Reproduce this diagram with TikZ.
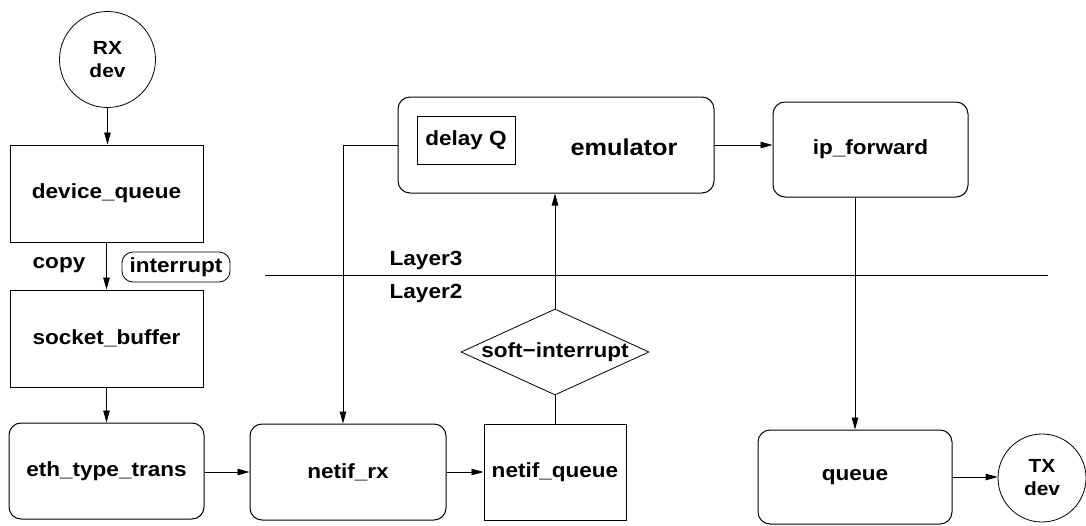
\documentclass[tikz,border=0pt]{standalone}
\usepackage{fontspec}
\setmainfont[FakeStretch=1.1]{Liberation Sans}
\usetikzlibrary{arrows.meta,shapes.geometric}
\tikzset{
  every node/.style={font=\fontsize{20.5}{23}\selectfont\bfseries, inner sep=0pt},
  plainbox/.style={draw, rectangle, line width=1pt},
  roundbox/.style={draw, rectangle, rounded corners=12pt, line width=1pt},
  devcircle/.style={draw, circle, line width=0.8pt, align=center,
    font=\fontsize{19}{23}\selectfont\bfseries},
  flow/.style={line width=0.8pt, -{Triangle[length=12pt,width=6.5pt]}},
  wire/.style={line width=0.8pt},
}
\begin{document}
\begin{tikzpicture}[x=1pt,y=-1pt]
\useasboundingbox (0,0) rectangle (1086,525);

% receive path
\node[devcircle, minimum size=96pt] (rx) at (107.5,59.5) {RX\\dev};
\node[plainbox, minimum width=193pt, minimum height=97pt] (devq) at (106.5,193.5) {device\_queue};
\node[plainbox, minimum width=193pt, minimum height=97pt] (sockb) at (106.5,338.5) {socket\_buffer};
\node[roundbox, minimum width=195pt, minimum height=96pt] (eth) at (106.5,471) {eth\_type\_trans};
\node[roundbox, minimum width=196pt, minimum height=96pt] (netrx) at (348,472) {netif\_rx};
\node[plainbox, minimum width=142pt, minimum height=96pt] (netq) at (555,472) {netif\_queue};

\node (copy) at (59,265) {copy};
\node[draw, rounded corners=11pt, line width=0.8pt, minimum width=108pt, minimum height=30pt] (intr) at (176,267) {interrupt};

% soft interrupt
\node[draw, diamond, line width=0.8pt, minimum width=188pt, minimum height=86pt] (soft) at (555,352) {};
\node (softlbl) at (soft.center) {soft−interrupt};

% emulator
\node[roundbox, minimum width=316pt, minimum height=96pt] (emul) at (556,145) {};
\node[draw, rectangle, line width=0.8pt, minimum width=98pt, minimum height=48pt] (delayq) at (466,140) {delay Q};
\node (emullbl) at (624,147) {\fontsize{23}{26}\selectfont emulator};

% transmit path
\node[roundbox, minimum width=195pt, minimum height=95pt] (ipf) at (870.5,149.5) {ip\_forward};
\node[roundbox, minimum width=194pt, minimum height=94pt] (queue) at (855,477) {queue};
\node[devcircle, minimum size=88pt] (tx) at (1042,478) {TX\\dev};

% layer separator
\coordinate (sepL) at (265,275);
\coordinate (sepR) at (1048,275);
\draw[wire] (sepL) -- (sepR);
\node (l3) at (426,260) {Layer3};
\node (l2) at (426,293) {Layer2};

% connectors
\draw[flow] (rx) -- (devq.north -| rx);
\draw[flow] (devq) -- (sockb);
\draw[flow] (sockb) -- (eth.north -| sockb.south);
\draw[flow] (eth.east |- netrx.west) -- (netrx.west);
\draw[flow] (netrx) -- (netq);
\draw[wire] (netq.north) -- (soft.south);
\draw[flow] (soft.north) -- (emul.south -| soft.north);
\coordinate (bend) at (343,145);
\draw[flow] (emul.west) -- (bend) -- (bend |- netrx.north);
\draw[flow] (emul.east) -- (emul.east -| ipf.west);
\draw[flow] (queue.north |- ipf.south) -- (queue.north);
\draw[flow] (queue.east) -- (queue.east -| tx.west);
\end{tikzpicture}
\end{document}
